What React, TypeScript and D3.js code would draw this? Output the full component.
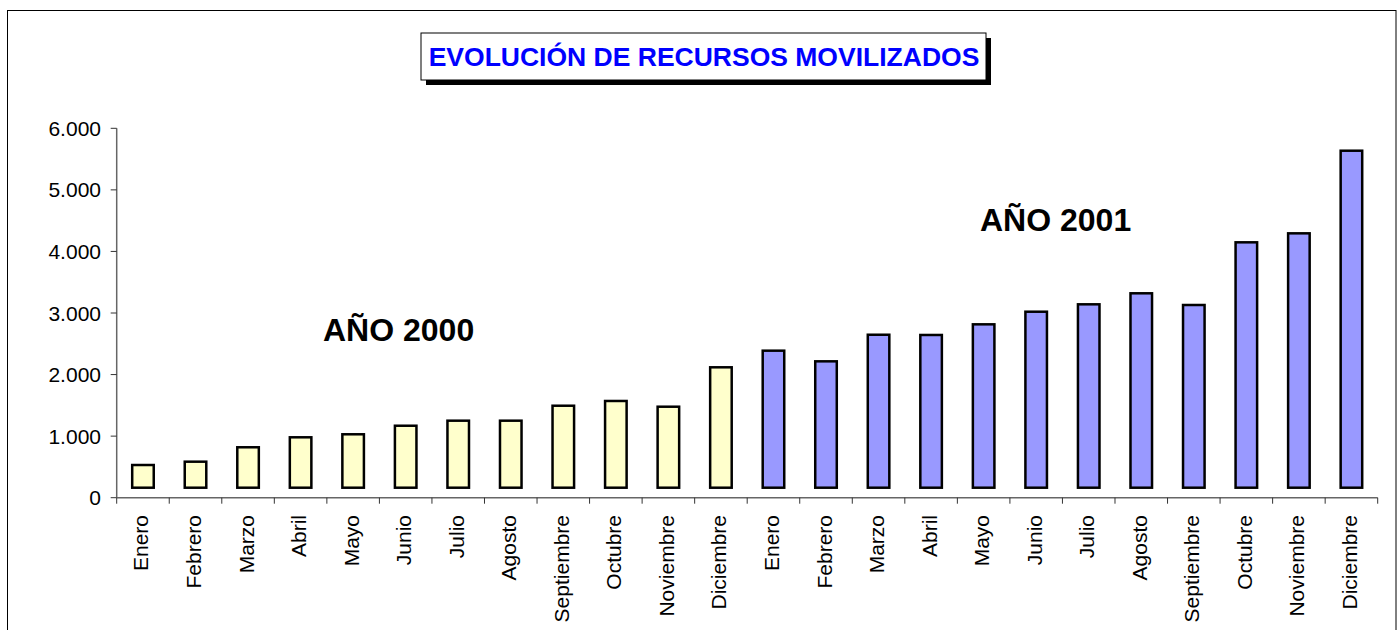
import React from "react";
import * as d3 from "d3";

const months = ["Enero","Febrero","Marzo","Abril","Mayo","Junio","Julio","Agosto","Septiembre","Octubre","Noviembre","Diciembre"];
const categories = [...months, ...months];
const values2000 = [531, 585, 819, 981, 1030, 1169, 1251, 1251, 1494, 1571, 1478, 2118];
const values2001 = [2388, 2215, 2647, 2643, 2816, 3021, 3141, 3320, 3130, 4148, 4294, 5636];
const yTicks = [0, 1000, 2000, 3000, 4000, 5000, 6000];
const title = "EVOLUCIÓN DE RECURSOS MOVILIZADOS";

const W = 1397, H = 630;
const FONT = "'Liberation Sans', Arial, Helvetica, sans-serif";

export default function App() {
  const left = 116.7, right = 1377.7, top = 128.3, bottom = 497.7;
  const idx = categories.map((_, i) => i);
  const x = d3.scaleBand<number>().domain(idx).range([left, right]).paddingInner(0.59).paddingOuter(0.295);
  const step = x.step();
  const y = d3.scaleLinear().domain([0, 6000]).range([bottom, top]);
  const fmt = (v: number) => d3.format(",")(v).replace(/,/g, ".");
  const values = [...values2000, ...values2001];
  const barBase = bottom - 10;
  return (
    <svg width={W} height={H} style={{ position: "absolute", left: 0, top: 0, background: "#fff" }} fontFamily={FONT}>
      <rect x={7.5} y={10.5} width={1388.5} height={640} fill="#fff" stroke="#000" strokeWidth={1} />
      {/* title */}
      <rect x={426} y={38} width={565} height={47} fill="#000" />
      <rect x={421} y={33} width={565} height={47} fill="#fff" stroke="#000" strokeWidth={1} />
      <text x={704} y={66} textAnchor="middle" fill="#0000FF" fontWeight="bold" fontSize={26.5}>{title}</text>
      {/* y axis */}
      <line x1={left} x2={left} y1={top} y2={bottom} stroke="#666" strokeWidth={1.5} />
      {yTicks.map((t) => (
        <g key={t}>
          <line x1={left - 6} x2={left} y1={y(t)} y2={y(t)} stroke="#333" strokeWidth={1} />
          <text x={101} y={y(t) + 7.5} textAnchor="end" fontSize={21} fill="#000">{fmt(t)}</text>
        </g>
      ))}
      {/* x axis */}
      <line x1={left} x2={right} y1={bottom} y2={bottom} stroke="#666" strokeWidth={1.5} />
      {d3.range(categories.length + 1).map((i) => (
        <line key={i} x1={left + i * step} x2={left + i * step} y1={bottom} y2={bottom + 6} stroke="#333" strokeWidth={1} />
      ))}
      {/* bars */}
      {values.map((v, i) => (
        <rect key={i} x={x(i)} y={y(v)} width={x.bandwidth()} height={barBase - y(v)}
          fill={i < 12 ? "#FFFFCC" : "#9999FF"} stroke="#000" strokeWidth={2.5} />
      ))}
      {/* x labels */}
      {categories.map((c, i) => {
        const cx = (x(i) as number) + x.bandwidth() / 2;
        return (
          <text key={i} transform={`translate(${cx - 2 + 7.5},${515}) rotate(-90)`} textAnchor="end" fontSize={21} fill="#000">{c}</text>
        );
      })}
      <text x={323} y={341} fontSize={32} fontWeight="bold" fill="#000">AÑO 2000</text>
      <text x={980} y={231} fontSize={32} fontWeight="bold" fill="#000">AÑO 2001</text>
    </svg>
  );
}
